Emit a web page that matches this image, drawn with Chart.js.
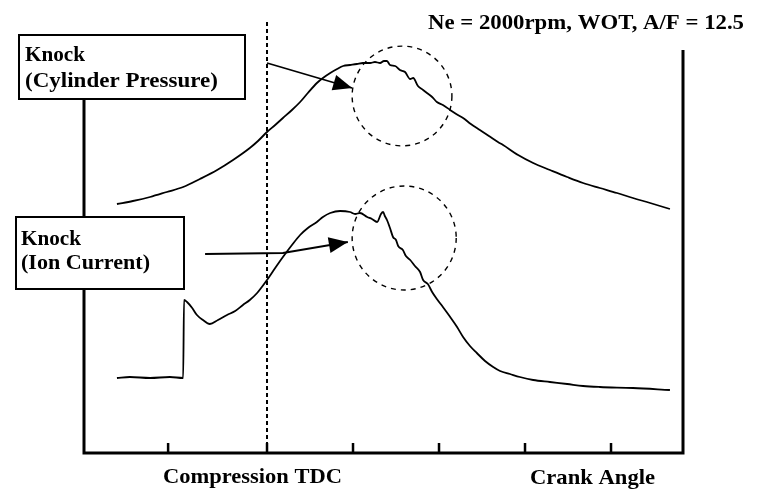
<!DOCTYPE html>
<html>
<head>
<meta charset="utf-8">
<title>Knock - Cylinder Pressure vs Ion Current</title>
<script src="https://cdn.jsdelivr.net/npm/chart.js@4"></script>
<style>
    body { margin: 0; background: #fff; }
    #knock-chart { display: block; }
</style>
</head>
<body>
<canvas id="knock-chart" width="762" height="492"></canvas>
<script>
// --- dados (crank angle em graus, valores em unidade arbitrária) ---
const crankTicks = [-23, 0, 20, 40, 60, 80];

const pressureAngle = [-34.9, -31.2, -27.2, -23.3, -19.5, -15.6, -11.6, -7.9, -4.0, -2.1,
    0, 1.9, 3.7, 5.8, 7.7, 9.5, 11.6, 13.0, 14.7, 16.3,
    17.7, 19.3, 20.9, 22.3, 24.0, 25.1, 26.3, 27.2, 27.9, 28.6,
    29.8, 30.9, 32.1, 33.3, 34.0, 35.1, 36.3, 37.2, 38.4, 39.5,
    40.9, 42.6, 44.0, 45.6, 47.4, 49.5, 51.6, 53.7, 54.9, 58.4,
    61.9, 65.8, 69.8, 73.5, 77.4, 81.4, 85.1, 89.1, 93.7];
const pressureValue = [62.25, 63, 64, 65.25, 66.5, 68.5, 70.75, 73.25, 76.25, 78,
    80.25, 82, 83.75, 85.75, 87.75, 90, 92.5, 93.75, 95, 96,
    96.75, 97, 97.25, 97.5, 97.5, 97.75, 97.5, 98, 98, 97,
    96.75, 95.75, 95.25, 93.5, 93.75, 91.75, 90.75, 90, 89, 87.75,
    87, 85.75, 84.75, 83.75, 82.25, 80.75, 79.25, 77.75, 77, 74.5,
    72.5, 70.75, 69, 67.5, 66.25, 65, 63.75, 62.5, 61];

const ionAngle = [-34.9, -31.9, -27.2, -22.6, -19.5, -19.3, -18.6, -17.4, -16.3, -14.9,
    -13.3, -11.4, -9.3, -7.4, -5.6, -4.0, -2.3, -1.2, 0, 1.9,
    3.7, 5.8, 7.7, 9.5, 11.6, 13.0, 14.7, 17.0, 19.3, 20.5,
    21.6, 23.3, 24.4, 25.6, 26.5, 27.0, 27.4, 27.9, 28.6, 29.3,
    30.0, 30.5, 31.6, 32.3, 33.3, 34.4, 35.6, 36.3, 37.4, 38.4,
    39.5, 40.9, 42.6, 44.2, 45.6, 47.2, 48.8, 50.7, 52.6, 54.2,
    56.5, 58.8, 61.9, 65.8, 69.8, 73.5, 77.4, 85.1, 93.7];
const ionValue = [18.75, 19, 18.75, 19, 18.75, 38.25, 37.75, 36.25, 34.5, 33.25,
    32.25, 33.25, 34.5, 35.5, 37, 38.25, 40, 41.5, 43.25, 46.25,
    49, 52, 54.5, 56.25, 57.75, 59, 60, 60.5, 60.25, 59.75,
    60, 59, 58.5, 57.75, 59.75, 60.25, 59.25, 58.25, 56.25, 54,
    53.25, 51.75, 50.75, 49.25, 48.25, 46.75, 45.25, 43.25, 42.25, 40.25,
    38.5, 36.5, 34, 31.5, 29, 26.75, 25, 23, 21.5, 20.5,
    19.75, 19, 18.25, 17.75, 17.25, 16.75, 16.5, 16.25, 15.75];

// --- anotações (em coordenadas de dados) ---
const knockCircles = [
    { x: 31.4, y: 89.25, r: 11.6 },
    { x: 31.9, y: 53.75, r: 12.1 }
];
const knockArrows = [
    [[0, 97.5], [19.8, 91.25]],
    [[-14.4, 49.75], [3.7, 50], [18.8, 52.75]]
];

// caixas e textos (em pixels, fora da área de dados)
const labelBoxes = [
    { x: 19, y: 35, w: 226, h: 64, lines: [['Knock', 25, 61, 60], ['(Cylinder Pressure)', 25, 87, 193]] },
    { x: 16, y: 217, w: 168, h: 72, lines: [['Knock', 21, 245, 60], ['(Ion Current)', 21, 269, 129]] }
];
const freeTexts = [
    ['Ne = 2000rpm, WOT, A/F = 12.5', 428, 29, 316],
    ['Compression TDC', 163, 483, 179],
    ['Crank Angle', 530, 484, 125]
];

const FONT = 'bold 21px "Liberation Serif", "DejaVu Serif", serif';

// escreve o texto esticando na horizontal para bater com a largura da figura
function fitText(ctx, txt, x, y, w) {
    const m = ctx.measureText(txt).width;
    ctx.save();
    ctx.translate(x, y);
    ctx.scale(w / m, 1);
    ctx.fillText(txt, 0, 0);
    ctx.restore();
}

function drawArrowHead(ctx, from, to) {
    const ang = Math.atan2(to[1] - from[1], to[0] - from[0]);
    const len = 19, half = 8;
    ctx.beginPath();
    ctx.moveTo(to[0], to[1]);
    ctx.lineTo(to[0] - len * Math.cos(ang) + half * Math.sin(ang), to[1] - len * Math.sin(ang) - half * Math.cos(ang));
    ctx.lineTo(to[0] - len * Math.cos(ang) - half * Math.sin(ang), to[1] - len * Math.sin(ang) + half * Math.cos(ang));
    ctx.closePath();
    ctx.fill();
}

// eixos, ticks e linha do PMS (atrás das curvas)
const axesPlugin = {
    id: 'axesPlugin',
    beforeDatasetsDraw(chart) {
        const { ctx, chartArea: a, scales: { x, y } } = chart;
        ctx.save();
        ctx.strokeStyle = '#000';
        ctx.lineCap = 'butt';

        // linha pontilhada do PMS de compressão
        ctx.lineWidth = 2;
        ctx.setLineDash([4, 3]);
        ctx.beginPath();
        ctx.moveTo(x.getPixelForValue(0), 22);
        ctx.lineTo(x.getPixelForValue(0), y.getPixelForValue(0));
        ctx.stroke();
        ctx.setLineDash([]);

        // moldura: esquerda, baixo, direita
        ctx.lineWidth = 3;
        ctx.beginPath();
        ctx.moveTo(a.left, a.top);
        ctx.lineTo(a.left, a.bottom);
        ctx.lineTo(a.right, a.bottom);
        ctx.lineTo(a.right, a.top);
        ctx.stroke();

        ctx.lineWidth = 2.5;
        crankTicks.forEach(t => {
            const px = x.getPixelForValue(t);
            ctx.beginPath();
            ctx.moveTo(px, a.bottom);
            ctx.lineTo(px, a.bottom - 10);
            ctx.stroke();
        });
        ctx.restore();
    }
};

// círculos, setas, caixas e textos (na frente)
const notesPlugin = {
    id: 'notesPlugin',
    afterDatasetsDraw(chart) {
        const { ctx, scales: { x, y } } = chart;
        ctx.save();
        ctx.strokeStyle = '#000';
        ctx.fillStyle = '#000';

        ctx.lineWidth = 1.4;
        ctx.setLineDash([5, 5]);
        knockCircles.forEach(c => {
            const cx = x.getPixelForValue(c.x);
            const cy = y.getPixelForValue(c.y);
            const r = x.getPixelForValue(c.x + c.r) - cx;
            ctx.beginPath();
            ctx.arc(cx, cy, r, 0, Math.PI * 2);
            ctx.stroke();
        });
        ctx.setLineDash([]);

        ctx.lineWidth = 1.8;
        knockArrows.forEach(pts => {
            const p = pts.map(q => [x.getPixelForValue(q[0]), y.getPixelForValue(q[1])]);
            ctx.beginPath();
            ctx.moveTo(p[0][0], p[0][1]);
            for (let i = 1; i < p.length; i++) ctx.lineTo(p[i][0], p[i][1]);
            ctx.stroke();
            drawArrowHead(ctx, p[p.length - 2], p[p.length - 1]);
        });

        ctx.font = FONT;
        ctx.textBaseline = 'alphabetic';
        labelBoxes.forEach(b => {
            ctx.fillStyle = '#fff';
            ctx.fillRect(b.x, b.y, b.w, b.h);
            ctx.lineWidth = 2;
            ctx.strokeRect(b.x, b.y, b.w, b.h);
            ctx.fillStyle = '#000';
            b.lines.forEach(l => fitText(ctx, l[0], l[1], l[2], l[3]));
        });
        freeTexts.forEach(t => fitText(ctx, t[0], t[1], t[2], t[3]));
        ctx.restore();
    }
};

const toPoints = (xs, ys) => xs.map((v, i) => ({ x: v, y: ys[i] }));

const traceStyle = {
    borderColor: '#000',
    borderWidth: 1.8,
    pointRadius: 0,
    cubicInterpolationMode: 'monotone',
    fill: false
};

new Chart(document.getElementById('knock-chart'), {
    type: 'line',
    data: {
        datasets: [
            { label: 'Cylinder Pressure', data: toPoints(pressureAngle, pressureValue), ...traceStyle },
            { label: 'Ion Current', data: toPoints(ionAngle, ionValue), ...traceStyle }
        ]
    },
    options: {
        responsive: false,
        animation: false,
        events: [],
        layout: { padding: { left: 84, right: 79, top: 50, bottom: 39 } },
        plugins: { legend: { display: false }, tooltip: { enabled: false } },
        scales: {
            x: { type: 'linear', min: -42.56, max: 96.74, display: false },
            y: { type: 'linear', min: 0, max: 100.75, display: false }
        }
    },
    plugins: [axesPlugin, notesPlugin]
});
</script>
</body>
</html>
